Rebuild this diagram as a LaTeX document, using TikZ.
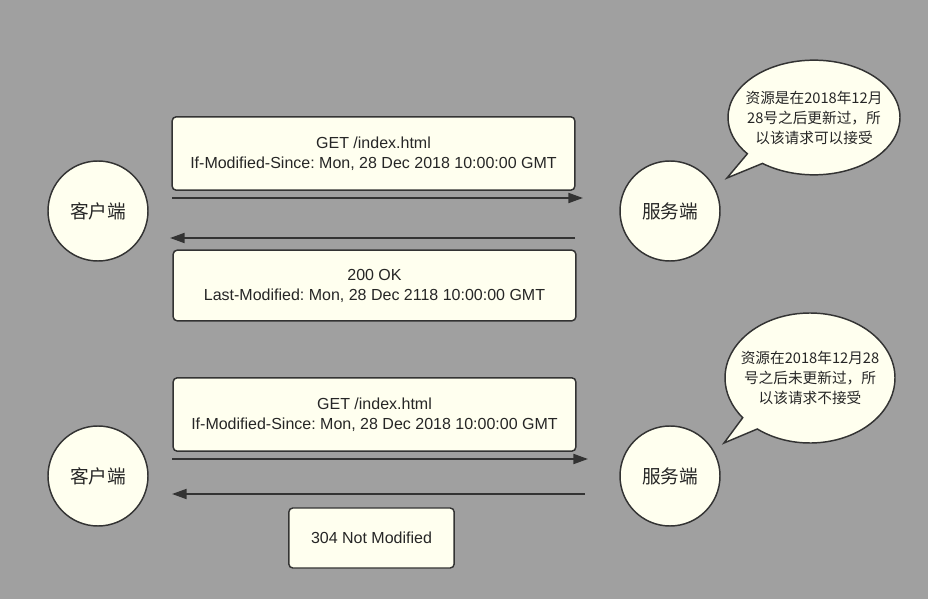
\documentclass[tikz,border=0pt]{standalone}
\usepackage{fontspec}
\setmainfont{Liberation Sans}
\newfontfamily\cjk{Noto Sans CJK SC}
\usetikzlibrary{arrows.meta, shapes.callouts}
\usepackage{xcolor}
\definecolor{bggray}{HTML}{A0A0A0}
\definecolor{paper}{HTML}{FFFFEF}
\definecolor{ink}{HTML}{333333}
\frenchspacing

\begin{document}
\begin{tikzpicture}[x=0.75pt, y=-0.75pt,
    every node/.style={font=\fontsize{12}{15}\selectfont, text=black!85},
    party/.style={circle, draw=ink, fill=paper, line width=1.1pt, minimum size=75pt, inner sep=0pt, font=\cjk\fontsize{14}{16}\selectfont},
    msg/.style={rectangle, rounded corners=3pt, draw=ink, fill=paper, line width=1.1pt, align=center, inner sep=0pt},
    note/.style={ellipse callout, draw=ink, fill=paper, line width=1.1pt, align=center, inner xsep=-20pt, inner ysep=0pt, callout pointer arc=14, font=\cjk\fontsize{11}{15}\selectfont},
    flow/.style={-{Triangle[length=11pt, width=7.5pt]}, line width=1.5pt, draw=ink}]
    \fill[bggray] (0,0) rectangle (928,599);
    \foreach \i/\y in {1/211, 2/476} {
      \node[party] (client\i) at (98,\y) {客户端};
      \node[party] (server\i) at (670,\y) {服务端};
    }
    % first request: resource modified
    \node[msg, minimum width=302pt, minimum height=55pt] (req1) at (373.5,153.5) {GET /index.html\\If-Modified-Since: Mon, 28 Dec 2018 10:00:00 GMT};
    \node[msg, minimum width=302pt, minimum height=53pt] (res1) at (374.5,285.5) {200 OK\\Last-Modified: Mon, 28 Dec 2118 10:00:00 GMT};
    \coordinate (go1a) at (172,198); \coordinate (go1b) at (583,198);
    \coordinate (back1a) at (575,238); \coordinate (back1b) at (170,238);
    \draw[flow] (go1a) -- (go1b);
    \draw[flow] (back1a) -- (back1b);
    \coordinate (tip1) at (727,178);
    \node[note, minimum width=129pt, minimum height=86pt, callout absolute pointer={(tip1)}] (note1) at (814,117.5) {资源是在2018年12月\\28号之后更新过，所\\以该请求可以接受};
    % second request: not modified
    \node[msg, minimum width=302pt, minimum height=55pt] (req2) at (374.5,414.5) {GET /index.html\\If-Modified-Since: Mon, 28 Dec 2018 10:00:00 GMT};
    \node[msg, minimum width=124pt, minimum height=45pt] (res2) at (371.5,538) {304 Not Modified};
    \coordinate (go2a) at (172,459); \coordinate (go2b) at (588,459);
    \coordinate (back2a) at (585,494); \coordinate (back2b) at (172,494);
    \draw[flow] (go2a) -- (go2b);
    \draw[flow] (back2a) -- (back2b);
    \coordinate (tip2) at (724,443);
    \node[note, minimum width=127.5pt, minimum height=97.5pt, callout absolute pointer={(tip2)}] (note2) at (810,378) {资源在2018年12月28\\号之后未更新过，所\\以该请求不接受};
  \end{tikzpicture}
\end{document}
